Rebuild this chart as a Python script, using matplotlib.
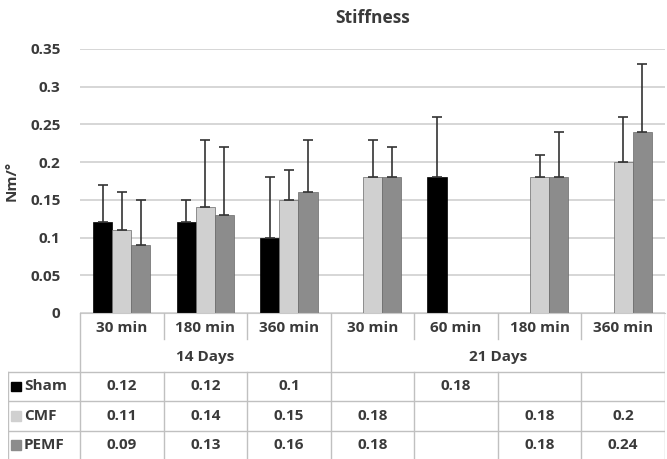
import numpy as np
import matplotlib
matplotlib.use('Agg')
import matplotlib.pyplot as plt

plt.rcParams['font.family'] = ['Open Sans', 'DejaVu Sans']
plt.rcParams['font.weight'] = 'bold'

# categories
times = ['30 min', '180 min', '360 min', '30 min', '60 min', '180 min', '360 min']
groups = ['14 Days', '21 Days']
group_sizes = [3, 4]
series = ['Sham', 'CMF', 'PEMF']
colors = ['#000000', '#d0d0d0', '#8c8c8c']

nan = np.nan
sham = [0.12, 0.12, 0.1, nan, 0.18, nan, nan]
cmf = [0.11, 0.14, 0.15, 0.18, nan, 0.18, 0.2]
pemf = [0.09, 0.13, 0.16, 0.18, nan, 0.18, 0.24]
# upper error (SD)
sham_err = [0.05, 0.03, 0.08, nan, 0.08, nan, nan]
cmf_err = [0.05, 0.09, 0.04, 0.05, nan, 0.03, 0.06]
pemf_err = [0.06, 0.09, 0.07, 0.04, nan, 0.06, 0.09]

values = [sham, cmf, pemf]
errors = [sham_err, cmf_err, pemf_err]

txt = '#3a3a3a'
W, H = 667, 459
fig = plt.figure(figsize=(W / 100, H / 100), dpi=100)

# main chart axes
x0, x1 = 80, 665
y_top, y_bot = 49, 313
ax = fig.add_axes([x0 / W, (H - y_bot) / H, (x1 - x0) / W, (y_bot - y_top) / H])
n = len(times)
x = np.arange(n) + 0.5
bw = 0.228
for i, (vals, errs) in enumerate(zip(values, errors)):
    pos = x + (i - 1) * bw
    v = np.array(vals)
    e = np.array(errs)
    ax.bar(pos, v, bw, color=colors[i], edgecolor='#6a6a6a' if i else '#000000',
           linewidth=0.5, zorder=2)
    ax.errorbar(pos, v, yerr=[np.zeros(n), e], fmt='none', ecolor='#333333',
                elinewidth=1.2, capsize=3.5, capthick=1.2, zorder=3)

ax.set_xlim(0, n)
ax.set_ylim(0, 0.35)
ax.set_yticks(np.arange(0, 0.351, 0.05))
ax.set_yticklabels(['0', '0.05', '0.1', '0.15', '0.2', '0.25', '0.3', '0.35'])
ax.yaxis.grid(True, color='#d0d0d0', linewidth=1.2, zorder=0)
ax.set_axisbelow(True)
ax.set_xticks([])
for s in ['top', 'right', 'left']:
    ax.spines[s].set_visible(False)
ax.spines['bottom'].set_color('#c8c8c8')
ax.tick_params(axis='y', length=0, labelsize=11, labelcolor=txt, pad=14)
ax.set_ylabel('Nm/°', fontsize=11, color=txt, labelpad=8, fontweight='bold')
ax.set_title('Stiffness', fontsize=12.5, color=txt, pad=19, fontweight='bold')
for lab in ax.get_yticklabels():
    lab.set_fontweight('bold')

# data table below
tl = 8
t_bot = 460
tax = fig.add_axes([tl / W, (H - t_bot) / H, (x1 - tl) / W, (t_bot - y_bot) / H])
unit = (x1 - x0) / n
left = -(x0 - tl) / unit
tax.set_xlim(left, n)
tax.set_ylim(5, 0)
tax.axis('off')
lc = '#c0c0c0'
lw = 1.0
fs = 11

# header rows
for j, t in enumerate(times):
    tax.text(j + 0.5, 0.5, t, ha='center', va='center', fontsize=fs, color=txt,
             fontweight='bold')
starts = np.cumsum([0] + group_sizes)
for g, name in enumerate(groups):
    tax.text((starts[g] + starts[g + 1]) / 2, 1.5, name, ha='center', va='center',
             fontsize=fs, color=txt, fontweight='bold')
# vertical lines in header
for j in range(n + 1):
    if j in starts:
        tax.plot([j, j], [0, 5], color=lc, lw=lw)
    else:
        tax.plot([j, j], [0, 0.9], color=lc, lw=lw)
        tax.plot([j, j], [2, 5], color=lc, lw=lw)
tax.plot([left, left], [2, 5], color=lc, lw=lw)
for r in [2, 3, 4, 5]:
    tax.plot([left, n], [r, r], color=lc, lw=lw)

# data rows
for i, (name, vals) in enumerate(zip(series, values)):
    r = 2.5 + i
    tax.add_patch(plt.Rectangle((left + 0.04, r - 0.17), 0.12, 0.34,
                                color=colors[i], transform=tax.transData))
    tax.text(left + 0.19, r, name, ha='left', va='center', fontsize=fs, color=txt,
             fontweight='bold')
    for j, v in enumerate(vals):
        if not np.isnan(v):
            tax.text(j + 0.5, r, f'{v:g}', ha='center', va='center', fontsize=fs,
                     color=txt, fontweight='bold')

fig.savefig('out.png', dpi=100)
